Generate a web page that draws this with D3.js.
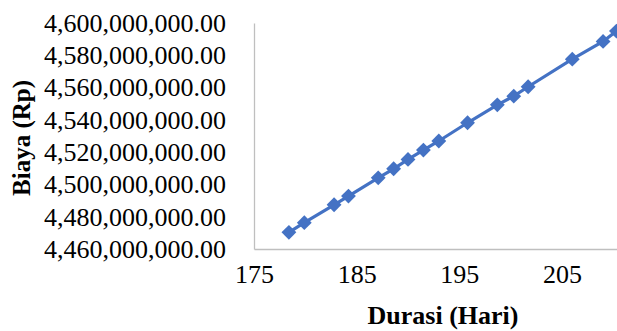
<!DOCTYPE html>
<html><head><meta charset="utf-8">
<script src="https://cdn.jsdelivr.net/npm/d3@7"></script>
<style>body{margin:0;background:#fff}svg{display:block}</style>
</head><body><svg id="c" width="617" height="331"></svg>
<script>
const durasi = [178.4, 179.9, 182.8, 184.2, 187.1, 188.6, 190.0, 191.5, 193.0, 195.8, 198.7, 200.3, 201.7, 206.0, 209.0, 210.3];
const biaya = [4470300000, 4476300000, 4487400000, 4492800000, 4504100000, 4509700000, 4515500000, 4521300000, 4526900000, 4538200000, 4549300000, 4554700000, 4560500000, 4577600000, 4588600000, 4595000000];
const xTicks = [175, 185, 195, 205];
const yTicks = [4460000000, 4480000000, 4500000000, 4520000000, 4540000000, 4560000000, 4580000000, 4600000000];

const svg = d3.select("#c");
const mLeft = 254, mTop = 23, mBottom = 249;
const x = d3.scaleLinear().domain([175, 215]).range([mLeft, mLeft + 40 * 10.267]);
const y = d3.scaleLinear().domain([4460000000, 4600000000]).range([mBottom, mTop]);
const font = "'Liberation Serif','Times New Roman',serif";
const fmt = d3.format(",.2f");

const xAxis = svg.append("g").attr("transform", `translate(0,${mBottom})`)
  .call(d3.axisBottom(x).tickValues(xTicks).tickSize(0).tickSizeOuter(0).tickPadding(16).tickFormat(d3.format("d")));
const yAxis = svg.append("g").attr("transform", `translate(${mLeft},0)`)
  .call(d3.axisLeft(y).tickValues(yTicks).tickSize(0).tickSizeOuter(0).tickPadding(28).tickFormat(fmt));
[xAxis, yAxis].forEach(g => {
  g.select(".domain").attr("stroke", "#bfbfbf").attr("stroke-width", 1.3);
  g.selectAll("text").attr("font-family", font).attr("font-size", 26).attr("fill", "#000");
});

const data = durasi.map((d, i) => [d, biaya[i]]);
const g = svg.append("g");
g.append("path").datum(data)
  .attr("fill", "none").attr("stroke", "#4472C4").attr("stroke-width", 3.2)
  .attr("d", d3.line().x(d => x(d[0])).y(d => y(d[1])));
g.selectAll("path.m").data(data).enter().append("path").attr("class", "m")
  .attr("transform", d => `translate(${x(d[0])},${y(d[1])})`)
  .attr("d", d3.symbol().type(d3.symbolDiamond2).size(140))
  .attr("fill", "#4472C4");

svg.append("text").attr("x", 443).attr("y", 324)
  .attr("text-anchor", "middle").attr("font-family", font).attr("font-weight", "bold")
  .attr("font-size", 26).text("Durasi (Hari)");
svg.append("text").attr("transform", `translate(30,138) rotate(-90)`)
  .attr("text-anchor", "middle").attr("font-family", font).attr("font-weight", "bold")
  .attr("font-size", 25).text("Biaya (Rp)");
</script></body></html>
